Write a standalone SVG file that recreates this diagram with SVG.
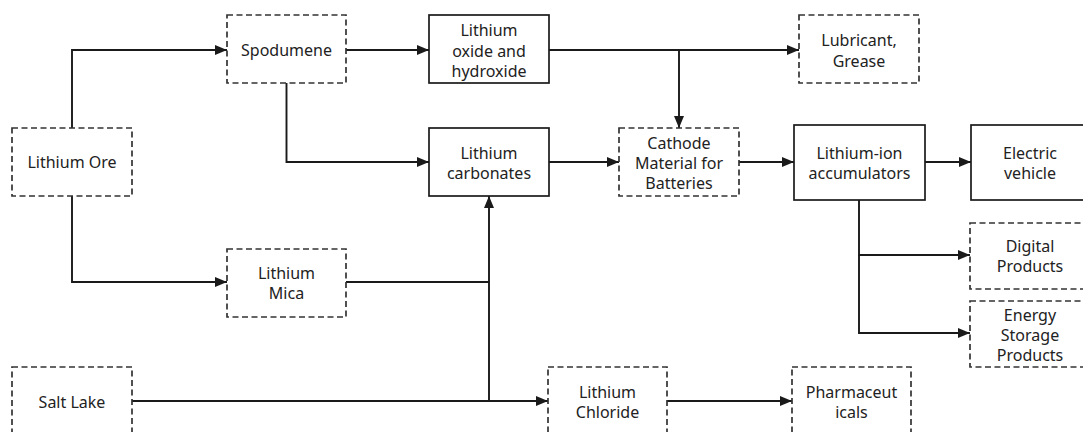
<svg xmlns="http://www.w3.org/2000/svg" width="1083" height="432" viewBox="0 0 1083 432">
<style>
.s{fill:#fff;stroke:#1a1a1a;stroke-width:1.7}
.d{fill:#fff;stroke:#333;stroke-width:1.7;stroke-dasharray:6 3.5}
.c{fill:none;stroke:#1a1a1a;stroke-width:1.9}
text{font-family:"Noto Sans","Open Sans",sans-serif;font-size:16px;fill:#222;text-anchor:middle}
</style>
<defs>
<marker id="a" markerWidth="12" markerHeight="10" refX="12" refY="5" orient="auto" markerUnits="userSpaceOnUse">
<path d="M0,0 L12,5 L0,10 Z" fill="#1a1a1a"/>
</marker>
</defs>
<rect width="1083" height="432" fill="#fff"/>
<g id="connectors">
<path class="c" d="M72,128 V50 H227" marker-end="url(#a)"/>
<path class="c" d="M72,196 V282 H227" marker-end="url(#a)"/>
<path class="c" d="M346,50 H429" marker-end="url(#a)"/>
<path class="c" d="M286.5,83 V162 H429" marker-end="url(#a)"/>
<path class="c" d="M549,50 H799" marker-end="url(#a)"/>
<path class="c" d="M679,50 V128" marker-end="url(#a)"/>
<path class="c" d="M549,162 H619" marker-end="url(#a)"/>
<path class="c" d="M739,162 H794" marker-end="url(#a)"/>
<path class="c" d="M925,162 H971" marker-end="url(#a)"/>
<path class="c" d="M859,200 V255 H970" marker-end="url(#a)"/>
<path class="c" d="M859,255 V333 H970" marker-end="url(#a)"/>
<path class="c" d="M346,282 H489"/>
<path class="c" d="M489,401 V196" marker-end="url(#a)"/>
<path class="c" d="M132,401 H548" marker-end="url(#a)"/>
<path class="c" d="M667,401 H792" marker-end="url(#a)"/>
</g>
<g id="lithium-ore"><rect class="d" x="12" y="128" width="120" height="68"/><text x="72" y="168">Lithium Ore</text></g>
<g id="spodumene"><rect class="d" x="227" y="15" width="119" height="68"/><text x="286.5" y="56">Spodumene</text></g>
<g id="lithium-oxide"><rect class="s" x="429" y="15" width="120" height="68"/><text x="489" y="36">Lithium</text><text x="489" y="57">oxide and</text><text x="489" y="77">hydroxide</text></g>
<g id="lubricant"><rect class="d" x="799" y="15" width="120" height="68"/><text x="859" y="46">Lubricant,</text><text x="859" y="67">Grease</text></g>
<g id="lithium-carbonates"><rect class="s" x="429" y="128" width="120" height="68"/><text x="489" y="159">Lithium</text><text x="489" y="179">carbonates</text></g>
<g id="cathode"><rect class="d" x="619" y="128" width="120" height="68"/><text x="679" y="149">Cathode</text><text x="679" y="169">Material for</text><text x="679" y="189">Batteries</text></g>
<g id="lithium-ion"><rect class="s" x="794" y="125" width="131" height="75"/><text x="859.5" y="159">Lithium-ion</text><text x="859.5" y="179">accumulators</text></g>
<g id="electric-vehicle"><rect class="s" x="971" y="125" width="120" height="75"/><text x="1030" y="159">Electric</text><text x="1030" y="179">vehicle</text></g>
<g id="digital"><rect class="d" x="970" y="223" width="120" height="66"/><text x="1030" y="252">Digital</text><text x="1030" y="272">Products</text></g>
<g id="energy-storage"><rect class="d" x="970" y="301" width="120" height="66"/><text x="1030" y="321">Energy</text><text x="1030" y="341">Storage</text><text x="1030" y="361">Products</text></g>
<g id="lithium-mica"><rect class="d" x="227" y="249" width="119" height="68"/><text x="286.5" y="279">Lithium</text><text x="286.5" y="299">Mica</text></g>
<g id="salt-lake"><rect class="d" x="12" y="367" width="120" height="80"/><text x="72" y="408">Salt Lake</text></g>
<g id="lithium-chloride"><rect class="d" x="548" y="367" width="119" height="80"/><text x="607.5" y="398">Lithium</text><text x="607.5" y="418">Chloride</text></g>
<g id="pharmaceuticals"><rect class="d" x="792" y="367" width="119" height="80"/><text x="851.5" y="398">Pharmaceut</text><text x="851.5" y="418">icals</text></g>
</svg>
